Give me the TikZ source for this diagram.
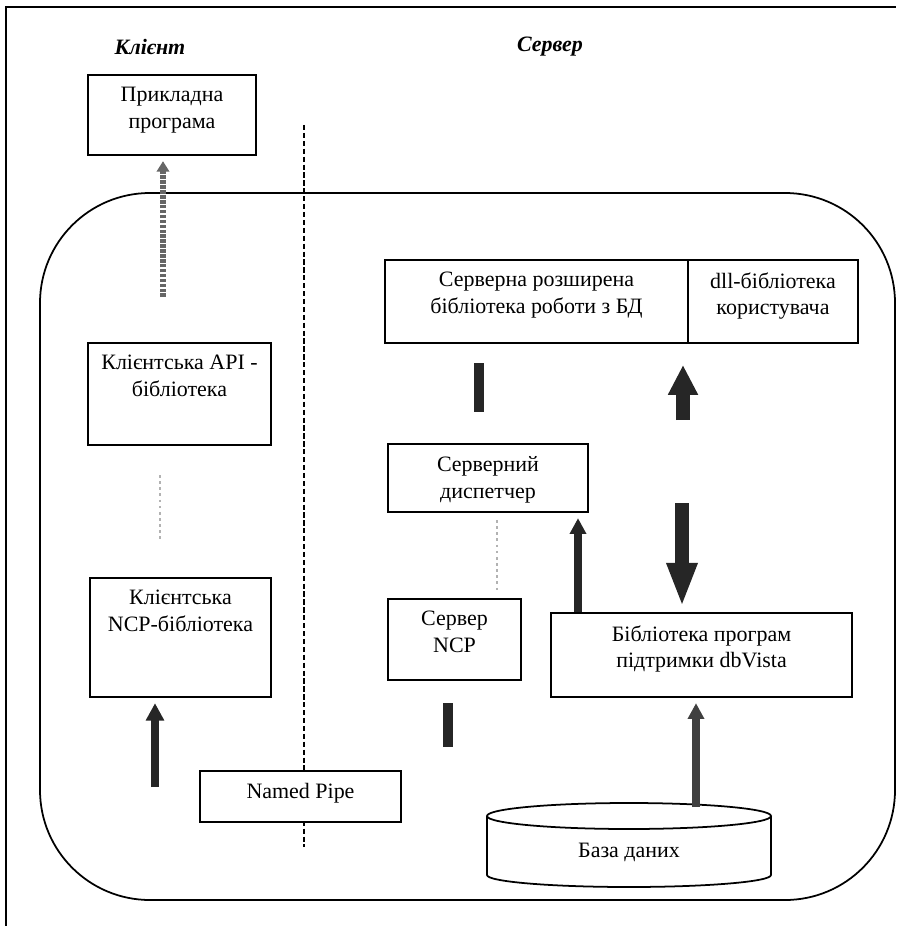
\documentclass[tikz,border=0pt]{standalone}
\usepackage{fontspec}
\setmainfont{Liberation Serif}
\usetikzlibrary{arrows.meta, positioning}
\tikzset{
  box/.style={draw, line width=1pt, fill=white, inner sep=0pt},
  boxtext/.style={align=center, font=\fontsize{12.5}{15.3}\selectfont, below=4pt},
  sidetext/.style={font=\bfseries\itshape\fontsize{12.5}{15}\selectfont}
}
\tikzset{
  ghost/.style={black!30, line width=1.5pt, dotted},
  bar/.style={black!85, line width=5.5pt},
  thinflow/.style={black!60, line width=3pt, dash pattern=on 2pt off 0.8pt, -{Triangle[length=6pt, width=7pt]}},
  flow/.style={black!85, line width=5pt, -{Triangle[length=9pt, width=9pt]}},
  wideflow/.style={black!85, line width=7.5pt, -{Triangle[length=#1, width=16pt]}}
}

\begin{document}
\begin{tikzpicture}[x=0.02cm, y=-0.02cm]
  \useasboundingbox (0,0) rectangle (896,926);

  % frame, the server area and the client/server border
  \draw[line width=1pt] (6,926) -- (6,7) -- (896,7);
  \draw[line width=1pt, rounded corners=2.2cm] (40,193) rectangle (895,900);
  \draw[line width=1.2pt, dash pattern=on 3pt off 1.5pt] (304,125) -- (304,847);

  \node[sidetext] (client) at (150,47) {Клієнт};
  \node[sidetext] (server) at (550,47) {Сервер};

  % client side
  \node[box, minimum width=3.36cm, minimum height=1.6cm,
    label={[boxtext]north:{Прикладна\\програма}}] (app) at (172,115) {};
  \node[box, minimum width=3.66cm, minimum height=2.04cm,
    label={[boxtext]north:{Клієнтська API -\\бібліотека}}] (api) at (179.5,394) {};
  \node[box, minimum width=3.62cm, minimum height=2.38cm,
    label={[boxtext]north:{Клієнтська\\NCP-бібліотека}}] (ncpc) at (180.5,637.5) {};
  \node[box, minimum width=4.02cm, minimum height=1.02cm,
    label={[boxtext]north:{Named Pipe}}] (pipe) at (300.5,796.5) {};

  % server side
  \node[box, minimum width=6.06cm, minimum height=1.66cm,
    label={[boxtext]north:{Серверна розширена\\бібліотека роботи з БД}}] (ext) at (536.5,301.5) {};
  \node[box, minimum width=3.4cm, minimum height=1.66cm,
    label={[boxtext]north:{dll-бібліотека\\користувача}}] (dll) at (773,301.5) {};
  \node[box, minimum width=4cm, minimum height=1.36cm,
    label={[boxtext]north:{Серверний\\диспетчер}}] (disp) at (488,478) {};
  \node[box, minimum width=2.66cm, minimum height=1.62cm,
    label={[boxtext]north:{Сервер\\NCP}}] (ncps) at (454.5,639.5) {};
  \node[box, minimum width=6.02cm, minimum height=1.68cm,
    label={[boxtext]north:{Бібліотека програм\\підтримки dbVista}}] (lib) at (701.5,655) {};

  % database drum
  \draw[line width=1pt, fill=white] (487,816) -- (487,875)
    arc[start angle=180, end angle=0, x radius=142, y radius=12] -- (771,816);
  \draw[line width=1pt] (629,816) ellipse [x radius=142, y radius=13];
  \node[minimum width=5.6cm, minimum height=1cm, font=\fontsize{12.5}{15.3}\selectfont] (db) at (629,852) {База даних};

  % arrows
  \coordinate (p1) at (163,297);
  \draw[thinflow, shorten >=3pt] (p1) -- (p1 |- app.south);
  \coordinate (g1) at (160,475);
  \draw[ghost] (g1) -- ++(0,65);
  \coordinate (p3) at (155,787);
  \draw[flow, line width=4.5pt, -{Triangle[length=10pt, width=10pt]}, shorten >=3pt] (p3) -- (p3 |- ncpc.south);

  \coordinate (b1) at (479,363);
  \draw[bar] (b1) -- ++(0,49);
  \coordinate (p5) at (683,420);
  \draw[wideflow=17pt] (p5) -- ++(0,-55);
  \coordinate (p7) at (682,503);
  \draw[wideflow=25pt, shorten >=3pt] (p7) -- (p7 |- lib.north);
  \coordinate (p8) at (578,560);
  \draw[flow, line width=5pt, shorten >=3pt] (lib.north -| p8) -- (disp.south -| p8);
  \coordinate (g2) at (497,520);
  \draw[ghost] (g2) -- ++(0,70);
  \coordinate (b2) at (448,703);
  \draw[bar] (b2) -- ++(0,44);
  \coordinate (p11) at (696,807);
  \draw[flow, black!75, shorten >=3pt] (p11) -- (p11 |- lib.south);
\end{tikzpicture}
\end{document}
